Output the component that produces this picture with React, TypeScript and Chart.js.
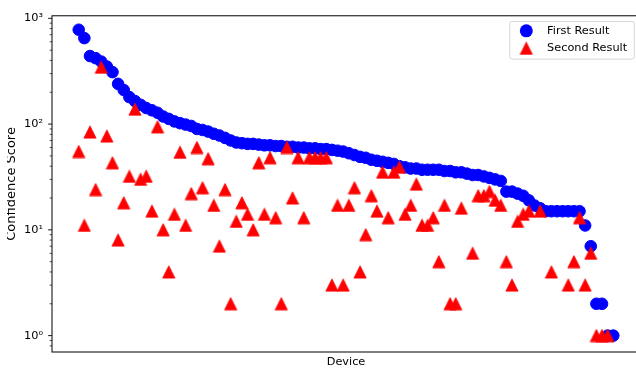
import { useEffect, useRef } from "react";
import { Chart, registerables } from "chart.js";

Chart.register(...registerables);

// ---- data ----
const seriesLabels = ["First Result", "Second Result"];
const xAxisTitle = "Device";
const yAxisTitle = "Confidence Score";

const firstResult = [
  780, 650, 440, 420, 390, 350, 310, 240, 210, 180,
  165, 152, 142, 135, 128, 118, 112, 106, 102, 99,
  96, 90, 88, 85, 81, 78, 74, 70, 67, 66,
  65, 65, 64, 63, 63, 62, 62, 61, 61, 60,
  60, 59, 59, 58, 58, 57, 56, 55, 53, 51,
  49, 48, 46, 45, 44, 43, 42, 40, 39, 38,
  38, 37, 37, 37, 37, 36, 36, 35, 35, 34,
  33, 33, 32, 31, 30, 29, 23, 23, 22, 21,
  19, 17, 16, 15, 15, 15, 15, 15, 15, 15,
  11, 7, 2, 2, 1, 1,
];

const secondResult: (number | null)[] = [
  55, 11, 84, 24, 344, 77, 43, 8, 18, 32,
  138, 30, 32, 15, 94, 10, 4, 14, 54, 11,
  22, 60, 25, 47, 17, 7, 24, 2, 12, 18,
  14, 10, 43, 14, 48, 13, 2, 60, 20, 48,
  13, 48, 48, 48, 48, 3, 17, 3, 17, 25,
  4, 9, 21, 15, 35, 13, 35, 39, 14, 17,
  27, 11, 11, 13, 5, 17, 2, 2, 16, null,
  6, 21, 21, 23, 19, 17, 5, 3, 12, 14,
  15, null, 15, null, 4, null, null, 3, 5, 13,
  3, 6, 1, 1, 1, null,
];

const yMajorTicks = [1, 10, 100, 1000];
const yMajorLabels = ["10⁰", "10¹", "10²", "10³"];
const yMinorTicks = [
  0.8, 0.9,
  2, 3, 4, 5, 6, 7, 8, 9,
  20, 30, 40, 50, 60, 70, 80, 90,
  200, 300, 400, 500, 600, 700, 800, 900,
];
const yMin = 0.726;
const yMax = 1057;

const FONT = "DejaVu Sans";
const FS = 11.3;

function makeTriangle(color: string): HTMLCanvasElement {
  const c = document.createElement("canvas");
  c.width = 14;
  c.height = 14;
  const g = c.getContext("2d")!;
  g.fillStyle = color;
  g.strokeStyle = color;
  g.lineWidth = 0.8;
  g.beginPath();
  g.moveTo(7, 0.8);
  g.lineTo(0.9, 13.1);
  g.lineTo(13.1, 13.1);
  g.closePath();
  g.fill();
  g.stroke();
  return c;
}

export default function App() {
  const ref = useRef<HTMLCanvasElement | null>(null);

  useEffect(() => {
    if (!ref.current) return;
    const tri = makeTriangle("#ff0000");
    const n = firstResult.length;

    const frame = {
      id: "mplFrame",
      afterDraw(chart: any) {
        const { ctx, chartArea } = chart;
        const ys = chart.scales.y;
        ctx.save();
        ctx.strokeStyle = "#000";
        // ticks
        ctx.lineWidth = 0.9;
        for (const v of yMajorTicks) {
          const y = ys.getPixelForValue(v);
          ctx.beginPath();
          ctx.moveTo(chartArea.left - 3.9, y);
          ctx.lineTo(chartArea.left, y);
          ctx.stroke();
        }
        ctx.lineWidth = 0.7;
        for (const v of yMinorTicks) {
          if (v < yMin || v > yMax) continue;
          const y = ys.getPixelForValue(v);
          ctx.beginPath();
          ctx.moveTo(chartArea.left - 2.3, y);
          ctx.lineTo(chartArea.left, y);
          ctx.stroke();
        }
        // spines
        ctx.lineWidth = 1;
        ctx.strokeRect(chartArea.left, chartArea.top, chartArea.right - chartArea.left, chartArea.bottom - chartArea.top);

        // legend
        const bx1 = chartArea.right - 5.7;
        const by0 = chartArea.top + 5.7;
        const bx0 = bx1 - 124.5;
        const by1 = by0 + 37.6;
        const r = 2.3;
        ctx.beginPath();
        ctx.moveTo(bx0 + r, by0);
        ctx.lineTo(bx1 - r, by0);
        ctx.quadraticCurveTo(bx1, by0, bx1, by0 + r);
        ctx.lineTo(bx1, by1 - r);
        ctx.quadraticCurveTo(bx1, by1, bx1 - r, by1);
        ctx.lineTo(bx0 + r, by1);
        ctx.quadraticCurveTo(bx0, by1, bx0, by1 - r);
        ctx.lineTo(bx0, by0 + r);
        ctx.quadraticCurveTo(bx0, by0, bx0 + r, by0);
        ctx.closePath();
        ctx.fillStyle = "rgba(255,255,255,0.8)";
        ctx.fill();
        ctx.strokeStyle = "rgba(204,204,204,0.8)";
        ctx.lineWidth = 1;
        ctx.stroke();

        const mx = bx0 + 16.5;
        const row1 = by0 + 9.3;
        const row2 = by0 + 26.9;
        ctx.fillStyle = "#0000ff";
        ctx.beginPath();
        ctx.arc(mx, row1, 6.5, 0, Math.PI * 2);
        ctx.fill();
        ctx.drawImage(tri, mx - 7, row2 - 7);

        ctx.fillStyle = "#000";
        ctx.font = `${FS}px "${FONT}"`;
        ctx.textBaseline = "middle";
        ctx.textAlign = "left";
        ctx.fillText(seriesLabels[0], bx0 + 37.3, row1);
        ctx.fillText(seriesLabels[1], bx0 + 37.3, row2);
        ctx.restore();
      },
    };

    const chart = new Chart(ref.current, {
      type: "scatter",
      data: {
        datasets: [
          {
            label: seriesLabels[0],
            data: firstResult.map((v, i) => ({ x: i, y: v })),
            backgroundColor: "#0000ff",
            borderColor: "#0000ff",
            pointRadius: 5.8,
            borderWidth: 1,
            order: 1,
          },
          {
            label: seriesLabels[1],
            data: secondResult.map((v, i) => ({ x: i, y: v as any })),
            backgroundColor: "#ff0000",
            borderColor: "#ff0000",
            pointStyle: tri as any,
            pointRadius: 6,
            borderWidth: 0,
            order: 0,
          },
        ],
      },
      options: {
        animation: false,
        responsive: false,
        devicePixelRatio: 1,
        events: [],
        layout: { autoPadding: false, padding: { top: 12, left: 0, right: 0, bottom: 0 } },
        plugins: {
          legend: { display: false },
          tooltip: { enabled: false },
        },
        scales: {
          x: {
            type: "linear",
            min: -0.05 * (n - 1),
            max: 1.05 * (n - 1),
            ticks: { display: false },
            grid: { display: false, drawTicks: false },
            border: { display: false },
            title: {
              display: true,
              text: xAxisTitle,
              color: "#000",
              font: { family: FONT, size: FS },
              padding: { top: 0, bottom: 2.6 },
            },
            afterFit(scale: any) {
              scale.height = 19;
            },
          },
          y: {
            type: "logarithmic",
            min: yMin,
            max: yMax,
            afterBuildTicks(scale: any) {
              scale.ticks = yMajorTicks.map((v) => ({ value: v, major: true }));
            },
            ticks: {
              autoSkip: false,
              padding: 9,
              color: "#000",
              font: { family: FONT, size: FS },
              callback: (value: any) => {
                const idx = yMajorTicks.indexOf(Number(value));
                return idx >= 0 ? yMajorLabels[idx] : "";
              },
            },
            grid: { display: false, drawTicks: false },
            border: { display: false },
            title: {
              display: true,
              text: yAxisTitle,
              color: "#000",
              font: { family: FONT, size: 13 },
              padding: { top: -2.7, bottom: 0 },
            },
            afterFit(scale: any) {
              scale.width = 45;
            },
          },
        },
      },
      plugins: [frame],
    });
    return () => chart.destroy();
  }, []);

  return (
    <div
      style={{
        position: "fixed",
        left: 0,
        top: 0,
        width: 636,
        height: 371,
        overflow: "hidden",
        background: "#fff",
      }}
    >
      <canvas
        ref={ref}
        width={633}
        height={371}
        style={{ position: "absolute", left: 7, top: 0, width: 633, height: 371 }}
      />
    </div>
  );
}
